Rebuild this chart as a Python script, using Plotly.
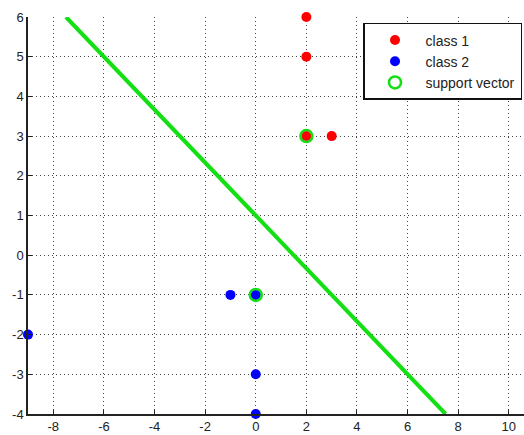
import plotly.graph_objects as go

# Training samples
class1_x = [2, 2, 2, 3]
class1_y = [6, 5, 3, 3]
class2_x = [-1, 0, -9, 0, 0]
class2_y = [-1, -1, -2, -3, -4]

# Support vectors found by the SVM
sv_x = [2, 0]
sv_y = [3, -1]

# Separating hyperplane 2x + 3y = 3, endpoints within the visible y range
boundary_x = [-7.5, 7.5]
boundary_y = [6, -4]

x_ticks = [-8, -6, -4, -2, 0, 2, 4, 6, 8, 10]
y_ticks = [-4, -3, -2, -1, 0, 1, 2, 3, 4, 5, 6]

GREEN = "#12e012"

fig = go.Figure()

fig.add_trace(go.Scatter(
    x=boundary_x, y=boundary_y, mode="lines",
    line=dict(color=GREEN, width=4), showlegend=False, hoverinfo="skip",
))
fig.add_trace(go.Scatter(
    x=class1_x, y=class1_y, mode="markers", name="class 1",
    marker=dict(color="#ff0000", size=10, symbol="circle"),
    cliponaxis=False,
))
fig.add_trace(go.Scatter(
    x=class2_x, y=class2_y, mode="markers", name="class 2",
    marker=dict(color="#0000ff", size=10, symbol="circle"),
    cliponaxis=False,
))
fig.add_trace(go.Scatter(
    x=sv_x, y=sv_y, mode="markers", name="support vector",
    marker=dict(color="rgba(255,255,255,0)", size=12, symbol="circle",
                line=dict(color=GREEN, width=2.5)),
    cliponaxis=False,
))

axis_common = dict(
    showgrid=True, gridcolor="#444444", griddash="1px,3px", gridwidth=1,
    zeroline=False, showline=True, linecolor="#222222", linewidth=1.5,
    ticks="inside", ticklen=4, tickcolor="#222222",
    tickfont=dict(family="Liberation Sans, Arial, sans-serif", size=13, color="#222222"),
)

fig.update_xaxes(range=[-9.0, 10.6], tickvals=x_ticks,
                 ticktext=[str(v) for v in x_ticks], **axis_common)
fig.update_yaxes(range=[-4, 6], tickvals=y_ticks,
                 ticktext=[str(v) for v in y_ticks], **axis_common)

fig.update_layout(
    width=524, height=435,
    margin=dict(l=28, r=0, t=17, b=21),
    paper_bgcolor="white", plot_bgcolor="white",
    showlegend=True,
    legend=dict(
        x=0.996, y=0.985, xanchor="right", yanchor="top",
        bgcolor="white", bordercolor="#111111", borderwidth=1.5,
        font=dict(family="Liberation Sans, Arial, sans-serif", size=14, color="#222222"),
        itemwidth=51,
    ),
)

fig.write_html("out.html")
